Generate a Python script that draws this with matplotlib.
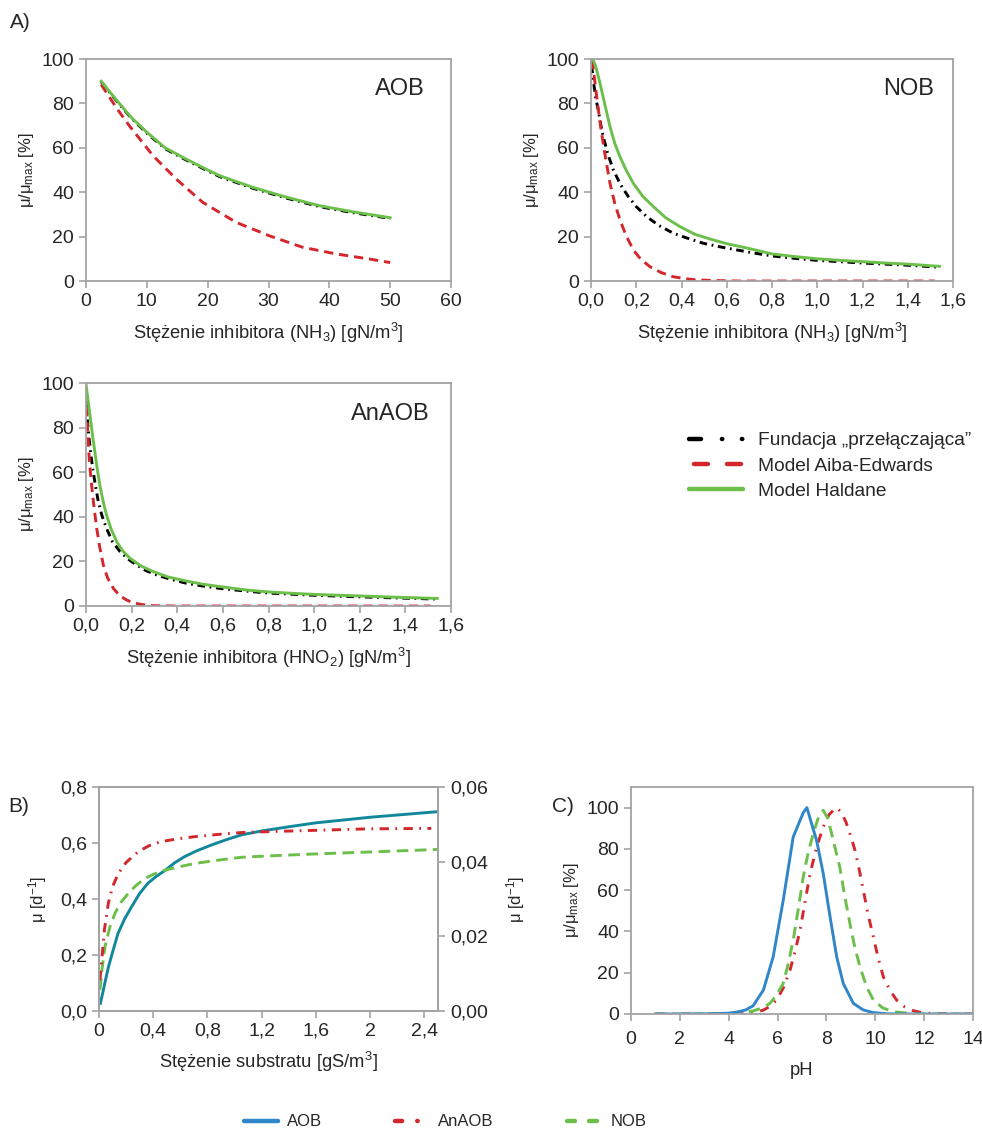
import matplotlib
matplotlib.use('Agg')
import matplotlib.pyplot as plt
from matplotlib.lines import Line2D
from matplotlib.ticker import FuncFormatter

plt.rcParams['font.family'] = ['Liberation Sans', 'DejaVu Sans']
plt.rcParams['mathtext.fontset'] = 'custom'
plt.rcParams['mathtext.rm'] = 'Liberation Sans'
plt.rcParams['mathtext.it'] = 'Liberation Sans:italic'
plt.rcParams['mathtext.bf'] = 'Liberation Sans:bold'

RED = '#d3262d'
GREEN = '#6cbf4a'
BLACK = '#000000'
BLUE = '#2f86c9'
TEAL = '#12879b'
FRAME = '#a3a3a3'
TXT = '#262626'

# --- A) inhibition curves, AOB vs NH3 ---
aob_x = [2.5, 5, 7.5, 10, 13, 16.4, 20, 22, 27.4, 33, 38.4, 43.8, 50]
aob_haldane = [90, 81.5, 73.5, 67, 60, 55, 50, 47.4, 42.2, 37.7, 33.9, 31.2, 28.5]
aob_switch = [89.7, 81.2, 73.2, 66.6, 59.6, 54.6, 49.6, 47, 41.8, 37.3, 33.5, 30.8, 28.2]
aob_aiba_x = [2.5, 5, 7.1, 11, 14.8, 19.2, 24.7, 30.1, 35.6, 41.1, 46.6, 50]
aob_aiba = [88.5, 78, 70, 56.5, 46, 35.4, 26.4, 20.4, 15.2, 12.2, 9.9, 8.3]

# --- NOB vs NH3 ---
nob_hald_x = [0.0075, 0.02, 0.04, 0.06, 0.084, 0.105, 0.128, 0.155, 0.187, 0.23, 0.276, 0.33, 0.393,
              0.46, 0.54, 0.6, 0.66, 0.7, 0.8, 0.9, 1.0, 1.1, 1.2, 1.3, 1.4, 1.54]
nob_haldane = [100, 97, 89, 80, 69.5, 62, 56, 50, 44, 38, 33.5, 28.5, 24.5,
               21, 18.5, 16.8, 15.5, 14.6, 12.2, 11, 10, 9.3, 8.7, 8.1, 7.6, 6.6]
nob_sw_x = [0.003, 0.01, 0.02, 0.032, 0.043, 0.054, 0.075, 0.099, 0.13, 0.165, 0.2, 0.246, 0.3,
            0.364, 0.42, 0.496, 0.57, 0.644, 0.72, 0.8, 0.9, 1.0, 1.1, 1.2, 1.3, 1.4, 1.54]
nob_switch = [97, 90.5, 83, 77, 70.5, 65, 57, 50, 43.5, 38, 33.5, 29, 25,
              21.5, 19.5, 17, 15.4, 14, 12.6, 11.3, 10.2, 9.3, 8.7, 8.1, 7.6, 7.1, 6.2]
nob_aiba_x = [0.003, 0.0075, 0.018, 0.03, 0.047, 0.065, 0.084, 0.105, 0.128, 0.155, 0.187, 0.22,
              0.261, 0.31, 0.364, 0.42, 0.467, 0.55, 0.65, 0.8, 1.0, 1.2, 1.52]
nob_aiba = [99.5, 98, 89, 79, 66.5, 55, 44, 35, 27.5, 20.5, 14, 9.8,
            6.4, 3.8, 1.9, 1.0, 0.5, 0.2, 0, 0, 0, 0, 0]

# --- AnAOB vs HNO2 ---
an_hald_x = [0.0, 0.008, 0.0175, 0.028, 0.039, 0.05, 0.061, 0.075, 0.09, 0.11, 0.135, 0.16, 0.193,
             0.24, 0.295, 0.36, 0.44, 0.51, 0.587, 0.7, 0.8, 0.9, 1.0, 1.2, 1.4, 1.54]
an_haldane = [99.5, 93, 85.6, 77, 69, 61, 54, 47, 40.8, 34.5, 28.8, 24.8, 21.4,
              18, 15.4, 13, 11.2, 9.8, 8.7, 7.2, 6.3, 5.7, 5.2, 4.5, 3.8, 3.4]
an_sw_x = [0.0, 0.007, 0.015, 0.023, 0.032, 0.043, 0.054, 0.07, 0.09, 0.115, 0.149, 0.185, 0.222,
           0.26, 0.31, 0.37, 0.44, 0.51, 0.587, 0.7, 0.8, 0.9, 1.0, 1.2, 1.4, 1.54]
an_switch = [92, 82, 73.7, 66.5, 60, 53, 46.8, 40.5, 34.8, 29, 24.4, 21, 18.4,
             16, 13.9, 12, 10.2, 9, 7.9, 6.7, 5.8, 5.3, 4.8, 4.1, 3.5, 3.1]
an_aiba_x = [0.0, 0.006, 0.015, 0.022, 0.029, 0.038, 0.047, 0.06, 0.076, 0.095, 0.12, 0.148, 0.178,
             0.205, 0.237, 0.27, 0.31, 0.4, 0.6, 0.8, 1.2, 1.51]
an_aiba = [96, 81, 64.7, 57, 49.8, 42, 34.8, 26.5, 18.4, 12.5, 7.9, 4.6, 2.7,
           1.5, 0.8, 0.3, 0.1, 0, 0, 0, 0, 0]

# --- B) Monod growth rates ---
b_aob_x = [0.01, 0.03, 0.05, 0.07, 0.1, 0.14, 0.19, 0.24, 0.3, 0.36, 0.42, 0.49, 0.56, 0.63, 0.72,
           0.83, 0.94, 1.05, 1.2, 1.4, 1.6, 1.8, 2.0, 2.2, 2.5]
b_aob = [0.027, 0.07, 0.115, 0.158, 0.21, 0.277, 0.33, 0.372, 0.42, 0.456, 0.48, 0.503, 0.53, 0.551, 0.572,
         0.593, 0.612, 0.629, 0.643, 0.658, 0.672, 0.682, 0.692, 0.7, 0.712]
b_nob_x = [0.007, 0.02, 0.044, 0.08, 0.118, 0.16, 0.216, 0.27, 0.339, 0.41, 0.486, 0.6, 0.707, 0.85,
           1.05, 1.3, 1.6, 2.0, 2.5]
b_nob = [0.075, 0.14, 0.23, 0.3, 0.349, 0.387, 0.42, 0.447, 0.474, 0.49, 0.503, 0.516, 0.527, 0.537,
         0.549, 0.555, 0.561, 0.568, 0.577]
b_anaob_x = [0.007, 0.02, 0.04, 0.069, 0.1, 0.142, 0.2, 0.29, 0.37, 0.46, 0.58, 0.707, 0.88, 1.05,
             1.3, 1.6, 2.0, 2.45]
b_anaob = [0.0083, 0.0135, 0.0218, 0.0289, 0.0333, 0.0368, 0.0398, 0.0427, 0.0443, 0.0454, 0.0461, 0.0467,
           0.0473, 0.0478, 0.0481, 0.0484, 0.0488, 0.0489]

# --- C) pH dependence ---
ph_aob_x = [1, 2, 3, 3.5, 4, 4.25, 4.47, 4.7, 5.0, 5.42, 5.82, 6.23, 6.64, 6.92, 7.05, 7.2,
            7.4, 7.6, 7.87, 8.15, 8.42, 8.69, 9.1, 9.5, 9.9, 10.5, 11, 12, 13, 14]
ph_aob = [0, 0, 0.05, 0.15, 0.4, 0.8, 1.3, 2, 4, 11.6, 27.7, 55, 85.8, 93.8, 97.5, 100,
          92, 84, 68, 47, 27.7, 14.8, 5.2, 2, 0.7, 0.1, 0, 0, 0, 0]
ph_nob_x = [1, 2, 3, 4, 4.5, 5, 5.35, 5.69, 5.95, 6.23, 6.43, 6.64, 6.85, 7.05, 7.25, 7.46, 7.65, 7.87,
            8.05, 8.2, 8.55, 8.75, 8.96, 9.15, 9.37, 9.65, 9.92, 10.3, 10.74, 11.5, 12, 13, 14]
ph_nob = [0, 0, 0, 0.1, 0.5, 1.5, 2.8, 5.2, 9, 14.8, 24, 35.8, 51, 66.4, 78, 87.4, 94.5, 98.7,
          95, 88, 71, 57, 43.9, 33, 22.9, 13, 6.8, 3, 1.1, 0.2, 0, 0, 0]
ph_an_x = [1, 2, 3, 4, 4.5, 5, 5.42, 5.7, 5.96, 6.25, 6.51, 6.72, 6.92, 7.12, 7.33, 7.6, 7.87, 8.1,
           8.39, 8.6, 8.8, 9.0, 9.17, 9.35, 9.51, 9.7, 9.92, 10.12, 10.33, 10.6, 10.87, 11.2, 11.56,
           12, 13, 14]
ph_an = [0, 0, 0, 0, 0.1, 0.5, 1.9, 3.8, 6.8, 13, 21.3, 30.5, 40.6, 54, 68, 81, 90.6, 96.5,
         100, 98, 93, 86, 79.3, 69.5, 60, 48.5, 37.4, 27, 18, 11.5, 6.8, 3.5, 1.6,
         0.4, 0, 0]

W, H = 982, 1132
fig = plt.figure(figsize=(W / 100, H / 100), dpi=100)


def axes_px(left, top, right, bottom):
    return fig.add_axes([left / W, 1 - bottom / H, (right - left) / W, (bottom - top) / H])


def comma(fmt):
    return FuncFormatter(lambda v, p: (fmt % v).replace('.', ','))


def style(ax):
    for s in ax.spines.values():
        s.set_color(FRAME)
        s.set_linewidth(1.3)
    ax.tick_params(colors=FRAME, labelcolor=TXT, labelsize=14, length=5, width=1.2)


lw = 2.1
sw_dash = (0, (2.6, 1.6, 0.6, 1.6))
aiba_dash = (0, (3.2, 2.0))
xlab_size = 13.2
ylab_size = 12

ylab = 'μ/μ$_{\\mathrm{max}}$ [%]'

# A1 AOB
ax = axes_px(86, 59, 451, 281)
ax.plot(aob_x, aob_switch, color=BLACK, lw=lw, ls=sw_dash)
ax.plot(aob_aiba_x, aob_aiba, color=RED, lw=lw, ls=aiba_dash)
ax.plot(aob_x, aob_haldane, color=GREEN, lw=lw)
ax.set_xlim(0, 60)
ax.set_ylim(0, 100)
ax.set_xticks(range(0, 61, 10))
ax.set_yticks(range(0, 101, 20))
ax.text(0.929, 0.865, 'AOB', transform=ax.transAxes, ha='right', va='center', fontsize=17, color=TXT)
ax.set_xlabel('Stężenie inhibitora (NH$_{3}$) [gN/m$^{3}$]', fontsize=xlab_size, color=TXT, labelpad=8)
ax.set_ylabel(ylab, fontsize=ylab_size, color=TXT)
style(ax)

# A2 NOB
ax = axes_px(591, 59, 953, 281)
ax.plot(nob_sw_x, nob_switch, color=BLACK, lw=lw, ls=sw_dash)
ax.plot(nob_aiba_x, nob_aiba, color=RED, lw=lw, ls=aiba_dash)
ax.plot(nob_hald_x, nob_haldane, color=GREEN, lw=lw)
ax.set_xlim(0, 1.6)
ax.set_ylim(0, 100)
ax.set_xticks([i * 0.2 for i in range(9)])
ax.set_yticks(range(0, 101, 20))
ax.xaxis.set_major_formatter(comma('%.1f'))
ax.text(0.948, 0.865, 'NOB', transform=ax.transAxes, ha='right', va='center', fontsize=17, color=TXT)
ax.set_xlabel('Stężenie inhibitora (NH$_{3}$) [gN/m$^{3}$]', fontsize=xlab_size, color=TXT, labelpad=8)
ax.set_ylabel(ylab, fontsize=ylab_size, color=TXT)
style(ax)

# A3 AnAOB
ax = axes_px(86, 383, 451, 606)
ax.plot(an_sw_x, an_switch, color=BLACK, lw=lw, ls=sw_dash)
ax.plot(an_aiba_x, an_aiba, color=RED, lw=lw, ls=aiba_dash)
ax.plot(an_hald_x, an_haldane, color=GREEN, lw=lw)
ax.set_xlim(0, 1.6)
ax.set_ylim(0, 100)
ax.set_xticks([i * 0.2 for i in range(9)])
ax.set_yticks(range(0, 101, 20))
ax.xaxis.set_major_formatter(comma('%.1f'))
ax.text(0.942, 0.861, 'AnAOB', transform=ax.transAxes, ha='right', va='center', fontsize=17, color=TXT)
ax.set_xlabel('Stężenie inhibitora (HNO$_{2}$) [gN/m$^{3}$]', fontsize=xlab_size, color=TXT, labelpad=8)
ax.set_ylabel(ylab, fontsize=ylab_size, color=TXT)
style(ax)

# legend for panel A
handles_a = [
    Line2D([], [], color=BLACK, lw=3.2, ls=(0, (2.7, 4.7, 0.1, 4.4, 0.1, 4.4)), dash_capstyle='round'),
    Line2D([], [], color=RED, lw=3.2, ls=(6.35, (3.15, 4.3)), dash_capstyle='round'),
    Line2D([], [], color=GREEN, lw=3.2, solid_capstyle='round'),
]
fig.legend(handles_a, ['Fundacja „przełączająca”', 'Model Aiba-Edwards', 'Model Haldane'],
           loc='center left', bbox_to_anchor=(672 / W, 1 - 466 / H), frameon=False,
           fontsize=13.8, handlelength=2.82, handletextpad=0.78, labelspacing=0.42,
           labelcolor=TXT)

# B) growth rate vs substrate
ax = axes_px(99, 787, 438, 1011)
ax.plot(b_aob_x, b_aob, color=TEAL, lw=lw)
ax.plot(b_nob_x, b_nob, color=GREEN, lw=lw, ls=(0, (4, 2.2)))
ax.set_xlim(0, 2.5)
ax.set_ylim(0, 0.8)
ax.set_xticks([0, 0.4, 0.8, 1.2, 1.6, 2.0, 2.4])
ax.set_yticks([0, 0.2, 0.4, 0.6, 0.8])
ax.xaxis.set_major_formatter(comma('%g'))
ax.yaxis.set_major_formatter(comma('%.1f'))
ax.set_xlabel('Stężenie substratu [gS/m$^{3}$]', fontsize=xlab_size, color=TXT, labelpad=7)
ax.set_ylabel('μ [d$^{\\mathrm{-1}}$]', fontsize=ylab_size, color=TXT, labelpad=8)
style(ax)
ax2 = ax.twinx()
ax2.plot(b_anaob_x, b_anaob, color=RED, lw=lw, ls=(0, (3.2, 2.2, 0.6, 2.2)))
ax2.set_ylim(0, 0.06)
ax2.set_yticks([0, 0.02, 0.04, 0.06])
ax2.yaxis.set_major_formatter(comma('%.2f'))
ax2.set_ylabel('μ [d$^{\\mathrm{-1}}$]', fontsize=ylab_size, color=TXT, labelpad=12)
style(ax2)

# C) pH
ax = axes_px(631, 787, 973, 1014)
ax.plot(ph_an_x, ph_an, color=RED, lw=lw, ls=(0, (3.2, 2.6, 0.6, 2.6)))
ax.plot(ph_nob_x, ph_nob, color=GREEN, lw=lw, ls=(0, (4, 2.4)))
ax.plot(ph_aob_x, ph_aob, color=BLUE, lw=lw)
ax.set_xlim(0, 14)
ax.set_ylim(0, 110)
ax.set_xticks(range(0, 15, 2))
ax.set_yticks(range(0, 101, 20))
ax.set_xlabel('pH', fontsize=xlab_size, color=TXT, labelpad=10)
ax.set_ylabel(ylab, fontsize=ylab_size, color=TXT)
style(ax)
ax.tick_params(axis='x', pad=7)

# bottom legend for B and C
handles_bc = [
    Line2D([], [], color=BLUE, lw=3.2, solid_capstyle='round'),
    Line2D([], [], color=RED, lw=3.2, ls=(0, (1.6, 3.4, 0.1, 2.9, 0.1, 3.0)), dash_capstyle='round'),
    Line2D([], [], color=GREEN, lw=3.2, ls=(0, (1.8, 3.15)), dash_capstyle='round'),
]
fig.legend(handles_bc, ['AOB', 'AnAOB', 'NOB'], loc='center left',
           bbox_to_anchor=(229 / W, 1 - 1122 / H), ncol=3, frameon=False,
           fontsize=12, handlelength=2.04, handletextpad=0.54, columnspacing=4.4,
           labelcolor=TXT)

fig.text(10 / W, 1 - 22 / H, 'A)', fontsize=15, color=TXT, va='center')
fig.text(8 / W, 1 - 806 / H, 'B)', fontsize=15, color=TXT, va='center')
fig.text(552 / W, 1 - 806 / H, 'C)', fontsize=15, color=TXT, va='center')

fig.savefig('out.png', dpi=100)
